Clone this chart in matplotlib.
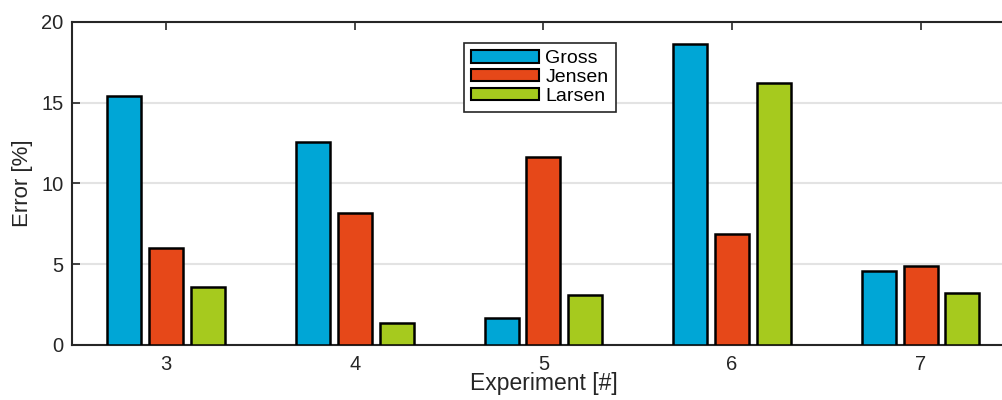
import numpy as np
import matplotlib.pyplot as plt
from matplotlib.patches import Patch

experiments = [3, 4, 5, 6, 7]
gross = [15.44, 12.55, 1.67, 18.64, 4.56]
jensen = [5.99, 8.19, 11.64, 6.87, 4.87]
larsen = [3.57, 1.36, 3.10, 16.22, 3.20]
names = ["Gross", "Jensen", "Larsen"]
colors = ["#00A6D6", "#E64819", "#A6CA1E"]

plt.rcParams['font.family'] = ['Liberation Sans', 'DejaVu Sans']

fig = plt.figure(figsize=(10.03, 4.0), dpi=100)
ax = fig.add_axes([0.0718, 0.1375, 0.940, 0.8075])

x = np.array(experiments, dtype=float)
w = 0.18
off = 0.222
for i, (vals, c) in enumerate(zip([gross, jensen, larsen], colors)):
    ax.bar(x + (i - 1) * off, vals, width=w, color=c, edgecolor="black",
           linewidth=1.8, zorder=3)

ax.set_xlim(2.5, 7.5)
ax.set_ylim(0, 20)
ax.set_xticks(experiments)
ax.set_yticks([0, 5, 10, 15, 20])
ax.yaxis.grid(True, color="#e3e3e3", linewidth=1.5, zorder=0)
ax.tick_params(direction="in", top=True, right=True, labelsize=14.5,
               colors="#262626", length=6, width=1.2)
ax.tick_params(axis="x", pad=7)
ax.tick_params(axis="y", pad=6)
for s in ax.spines.values():
    s.set_color("#262626")
    s.set_linewidth(1.5)

ax.set_xlabel("Experiment [#]", fontsize=16.5, color="#262626", labelpad=-1)
ax.set_ylabel("Error [%]", fontsize=16, color="#262626", labelpad=6)

handles = [Patch(facecolor=c, edgecolor="black", linewidth=1.5) for c in colors]
leg = fig.legend(handles, names, loc="upper left", bbox_to_anchor=(0.4626, 0.8925),
                 borderaxespad=0, fontsize=14, handlelength=3.5, handleheight=0.6,
                 labelspacing=0.08, handletextpad=0.3, borderpad=0.38,
                 fancybox=False, framealpha=1)
leg.get_frame().set_edgecolor("#262626")
leg.get_frame().set_linewidth(1.2)

fig.savefig("out.png", dpi=100)
